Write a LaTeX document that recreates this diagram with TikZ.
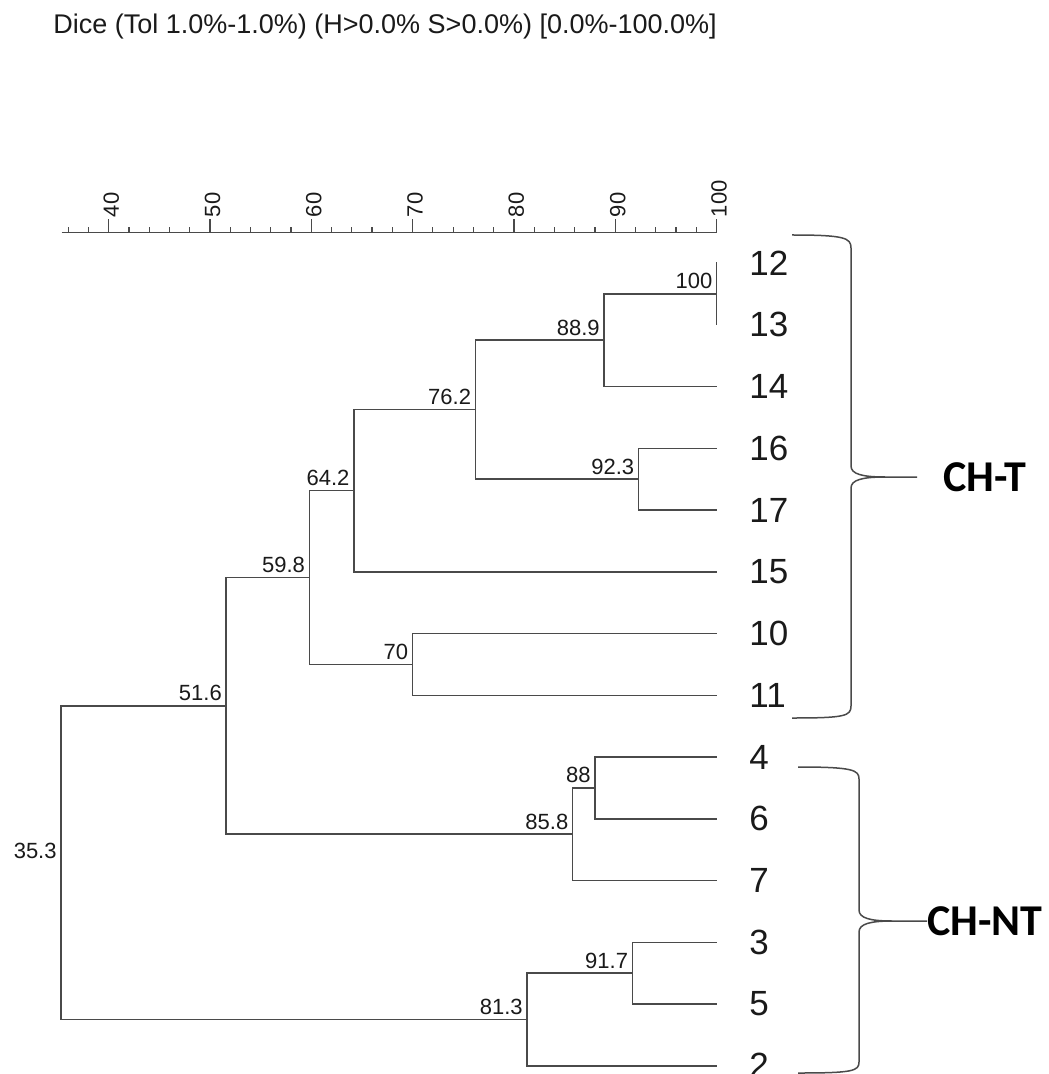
\documentclass[tikz,border=0pt]{standalone}
\usepackage{fontspec}
\setmainfont{Liberation Sans}
\newfontfamily\grpfont{Carlito}
\definecolor{treegray}{HTML}{4A4A4A}
\definecolor{txt}{HTML}{1A1A1A}
\begin{document}
\begin{tikzpicture}[x=0.5pt,y=-0.5pt,
  tree/.style={draw=treegray,line width=0.75pt,line cap=rect},
  axisline/.style={draw=treegray,line width=0.6pt},
  bracestyle/.style={draw=treegray,line width=0.75pt},
  nlab/.style={inner sep=0pt,anchor=base east,text=txt,font=\fontsize{11}{13}\selectfont},
  leaf/.style={inner sep=0pt,anchor=west,text=txt,font=\fontsize{17.5}{20}\selectfont},
  axlab/.style={inner sep=0pt,anchor=west,rotate=90,text=txt,font=\fontsize{11}{13}\selectfont},
  grp/.style={inner sep=0pt,anchor=west,text=black,font=\fontsize{22}{25}\grpfont\bfseries}]
\useasboundingbox[fill=white] (0,0) rectangle (1048,1074);

% title
\node[inner sep=0pt,anchor=base west,text=txt,font=\fontsize{13.5}{16}\selectfont] (title) at (53,34)
  {Dice (Tol 1.0\%-1.0\%) (H>0.0\% S>0.0\%) [0.0\%-100.0\%]};

% axis
\coordinate (ax0) at (61.7,232.3);
\coordinate (ax1) at (716.7,232.3);
\draw[axisline] (ax0) -- (ax1);
\foreach \v in {36,38,...,100}{
  \pgfmathtruncatemacro\m{mod(\v,10)}
  \ifnum\m=0
    \draw[axisline] ({10.13*\v-296.5},232.3) -- ({10.13*\v-296.5},219.3);
    \node[axlab] (ax\v) at ({10.13*\v-296.5+2.5},217.5) {\v};
  \else
    \draw[axisline] ({10.13*\v-296.5},232.3) -- ({10.13*\v-296.5},227.3);
  \fi
}

% leaves
\foreach \n/\y in {12/263,13/324.75,14/386.5,16/448.25,17/510,15/571.75,10/633.5,11/695.25,4/757,6/818.75,7/880.5,3/942.25,5/1004,2/1065.75}{
  \coordinate (e\n) at (716.7,\y);
  \node[leaf] (t\n) at (749,\y) {\n};
}

% internal nodes
\coordinate (n100) at (716.7,293.9);
\coordinate (n889) at ({10.13*88.9-296.5},340.2);
\coordinate (n923) at ({10.13*92.3-296.5},479.1);
\coordinate (n762) at ({10.13*76.2-296.5},409.6);
\coordinate (n642) at ({10.13*64.2-296.5},490.7);
\coordinate (n70)  at ({10.13*70-296.5},664.4);
\coordinate (n598) at ({10.13*59.8-296.5},577.5);
\coordinate (n88)  at ({10.13*88-296.5},787.9);
\coordinate (n858) at ({10.13*85.8-296.5},834.2);
\coordinate (n516) at ({10.13*51.6-296.5},705.9);
\coordinate (n917) at ({10.13*91.7-296.5},973.1);
\coordinate (n813) at ({10.13*81.3-296.5},1019.4);
\coordinate (n353) at ({10.13*35.3-296.5},862.6);

% branches
\draw[tree] (e12) -- (e13);
\draw[tree] (n100) -| (n889) |- (e14);
\draw[tree] (e16) -| (n923) |- (e17);
\draw[tree] (n889) -| (n762) |- (n923);
\draw[tree] (n762) -| (n642) |- (e15);
\draw[tree] (e10) -| (n70) |- (e11);
\draw[tree] (n642) -| (n598) |- (n70);
\draw[tree] (e4) -| (n88) |- (e6);
\draw[tree] (n88) -| (n858) |- (e7);
\draw[tree] (n598) -| (n516) |- (n858);
\draw[tree] (e3) -| (n917) |- (e5);
\draw[tree] (n917) -| (n813) |- (e2);
\draw[tree] (n516) -| (n353) |- (n813);

% node labels
\foreach \c/\t in {n100/100,n889/88.9,n923/92.3,n762/76.2,n642/64.2,n70/70,n598/59.8,n88/88,n858/85.8,n516/51.6,n917/91.7,n813/81.3}{
  \node[nlab] (l\c) at ([xshift=-2pt,yshift=2.5pt]\c) {\t};
}
\node[nlab] (ln353) at (57,858) {35.3};

% group labels
\node[grp] (chT) at (943,477) {CH-T};
\node[grp] (chNT) at (927,921) {CH-NT};

% braces
\coordinate (bT) at (917,477);
\draw[bracestyle] (792,235) .. controls (845,235) and (851,238) .. (851,248)
  -- (851,466) .. controls (851,474) and (862,477) .. (885,477) -- (bT);
\draw[bracestyle] (885,477) .. controls (862,477) and (851,480) .. (851,488)
  -- (851,706) .. controls (851,716) and (845,718) .. (792,718);
\draw[bracestyle] (798,767) .. controls (853,767) and (859,770) .. (859,779)
  -- (859,910) .. controls (859,918) and (870,921) .. (892,921) -- (chNT.west);
\draw[bracestyle] (892,921) .. controls (870,921) and (859,924) .. (859,932)
  -- (859,1062) .. controls (859,1071) and (853,1073) .. (798,1073);
\end{tikzpicture}
\end{document}
